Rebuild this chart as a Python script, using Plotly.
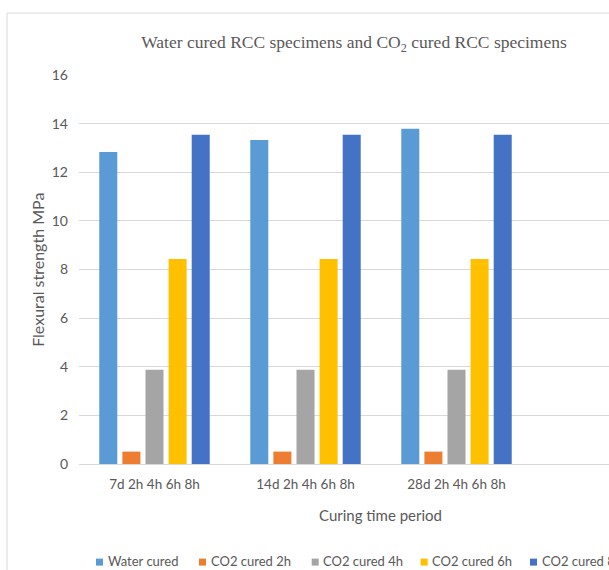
import plotly.graph_objects as go

# ---- data ----
categories = ["7d 2h 4h 6h 8h", "14d 2h 4h 6h 8h", "28d 2h 4h 6h 8h"]
series_names = ["Water cured", "CO2 cured 2h", "CO2 cured 4h", "CO2 cured 6h", "CO2 cured 8h"]
water_cured = [12.83, 13.33, 13.79]
co2_2h = [0.51, 0.51, 0.51]
co2_4h = [3.88, 3.88, 3.88]
co2_6h = [8.43, 8.43, 8.43]
co2_8h = [13.54, 13.54, 13.54]
series_values = [water_cured, co2_2h, co2_4h, co2_6h, co2_8h]
colors = ["#5B9BD5", "#ED7D31", "#A5A5A5", "#FFC000", "#4472C4"]
y_ticks = [0, 2, 4, 6, 8, 10, 12, 14, 16]

# ---- layout geometry (pixels) ----
W, H = 609, 570
PL, PR, PT, PB = 79, 609, 75, 464.3
CAT_W = 151.0


def px_x(p):
    return (p - PL) / (PR - PL)


def px_y(p):
    return (PB - p) / (PB - PT)


FONT = "Lato, 'Open Sans', sans-serif"
GREY = "#595959"

fig = go.Figure()
for name, vals, col in zip(series_names, series_values, colors):
    fig.add_trace(go.Bar(
        name=name, x=categories, y=vals,
        marker=dict(color=col, line=dict(width=0)),
        showlegend=False,
    ))

fig.update_layout(
    width=W, height=H,
    margin=dict(l=PL, r=W - PR, t=PT, b=H - PB, autoexpand=False),
    paper_bgcolor="white", plot_bgcolor="white",
    barmode="group", bargap=0.235, bargroupgap=0.22,
    title=dict(
        text="Water cured RCC specimens and CO<sub>2</sub> cured RCC specimens",
        font=dict(family="'Liberation Serif', 'Times New Roman', serif", size=17.5, color=GREY),
        x=px_x(354), xref="paper", xanchor="center",
        y=1 - 42 / H, yref="container", yanchor="middle",
    ),
    xaxis=dict(
        type="category", categoryorder="array", categoryarray=categories,
        range=[-0.5, -0.5 + (PR - PL) / CAT_W],
        showgrid=False, zeroline=False,
        showline=True, linecolor="#D9D9D9", linewidth=1,
        ticks="", tickfont=dict(family=FONT, size=13.5, color=GREY),
        ticklabelstandoff=8,
    ),
    yaxis=dict(
        range=[0, 16], tickvals=y_ticks,
        showgrid=True, gridcolor="#D9D9D9", gridwidth=1,
        zeroline=False, showline=False, ticks="",
        tickfont=dict(family=FONT, size=14, color=GREY),
        ticklabelstandoff=10,
    ),
)

annotations = [
    dict(text="Flexural strength MPa", textangle=-90, xref="paper", yref="paper",
         x=px_x(38), y=px_y(270), xanchor="center", yanchor="middle", showarrow=False,
         font=dict(family=FONT, size=16, color=GREY)),
    dict(text="Curing time period", xref="paper", yref="paper",
         x=px_x(380.5), y=px_y(515), xanchor="center", yanchor="middle", showarrow=False,
         font=dict(family=FONT, size=15, color=GREY)),
]

shapes = [
    dict(type="rect", xref="paper", yref="paper", x0=px_x(7), x1=px_x(640),
         y0=px_y(13), y1=px_y(600), line=dict(color="#D9D9D9", width=1),
         fillcolor="rgba(0,0,0,0)", layer="below"),
]

# manual legend (the original is cut off at the right edge)
legend_x = [96, 199, 311.7, 420.7, 530]
legend_y = 562.5
for name, col, lx in zip(series_names, colors, legend_x):
    shapes.append(dict(type="rect", xref="paper", yref="paper",
                       x0=px_x(lx), x1=px_x(lx + 7), y0=px_y(legend_y - 3.5), y1=px_y(legend_y + 3.5),
                       line=dict(width=0), fillcolor=col))
    annotations.append(dict(text=name, xref="paper", yref="paper",
                            x=px_x(lx + 10.5), y=px_y(570), xanchor="left", yanchor="bottom",
                            borderpad=0, showarrow=False,
                            font=dict(family=FONT, size=13, color=GREY)))

fig.update_layout(annotations=annotations, shapes=shapes)
fig.write_html("out.html")
